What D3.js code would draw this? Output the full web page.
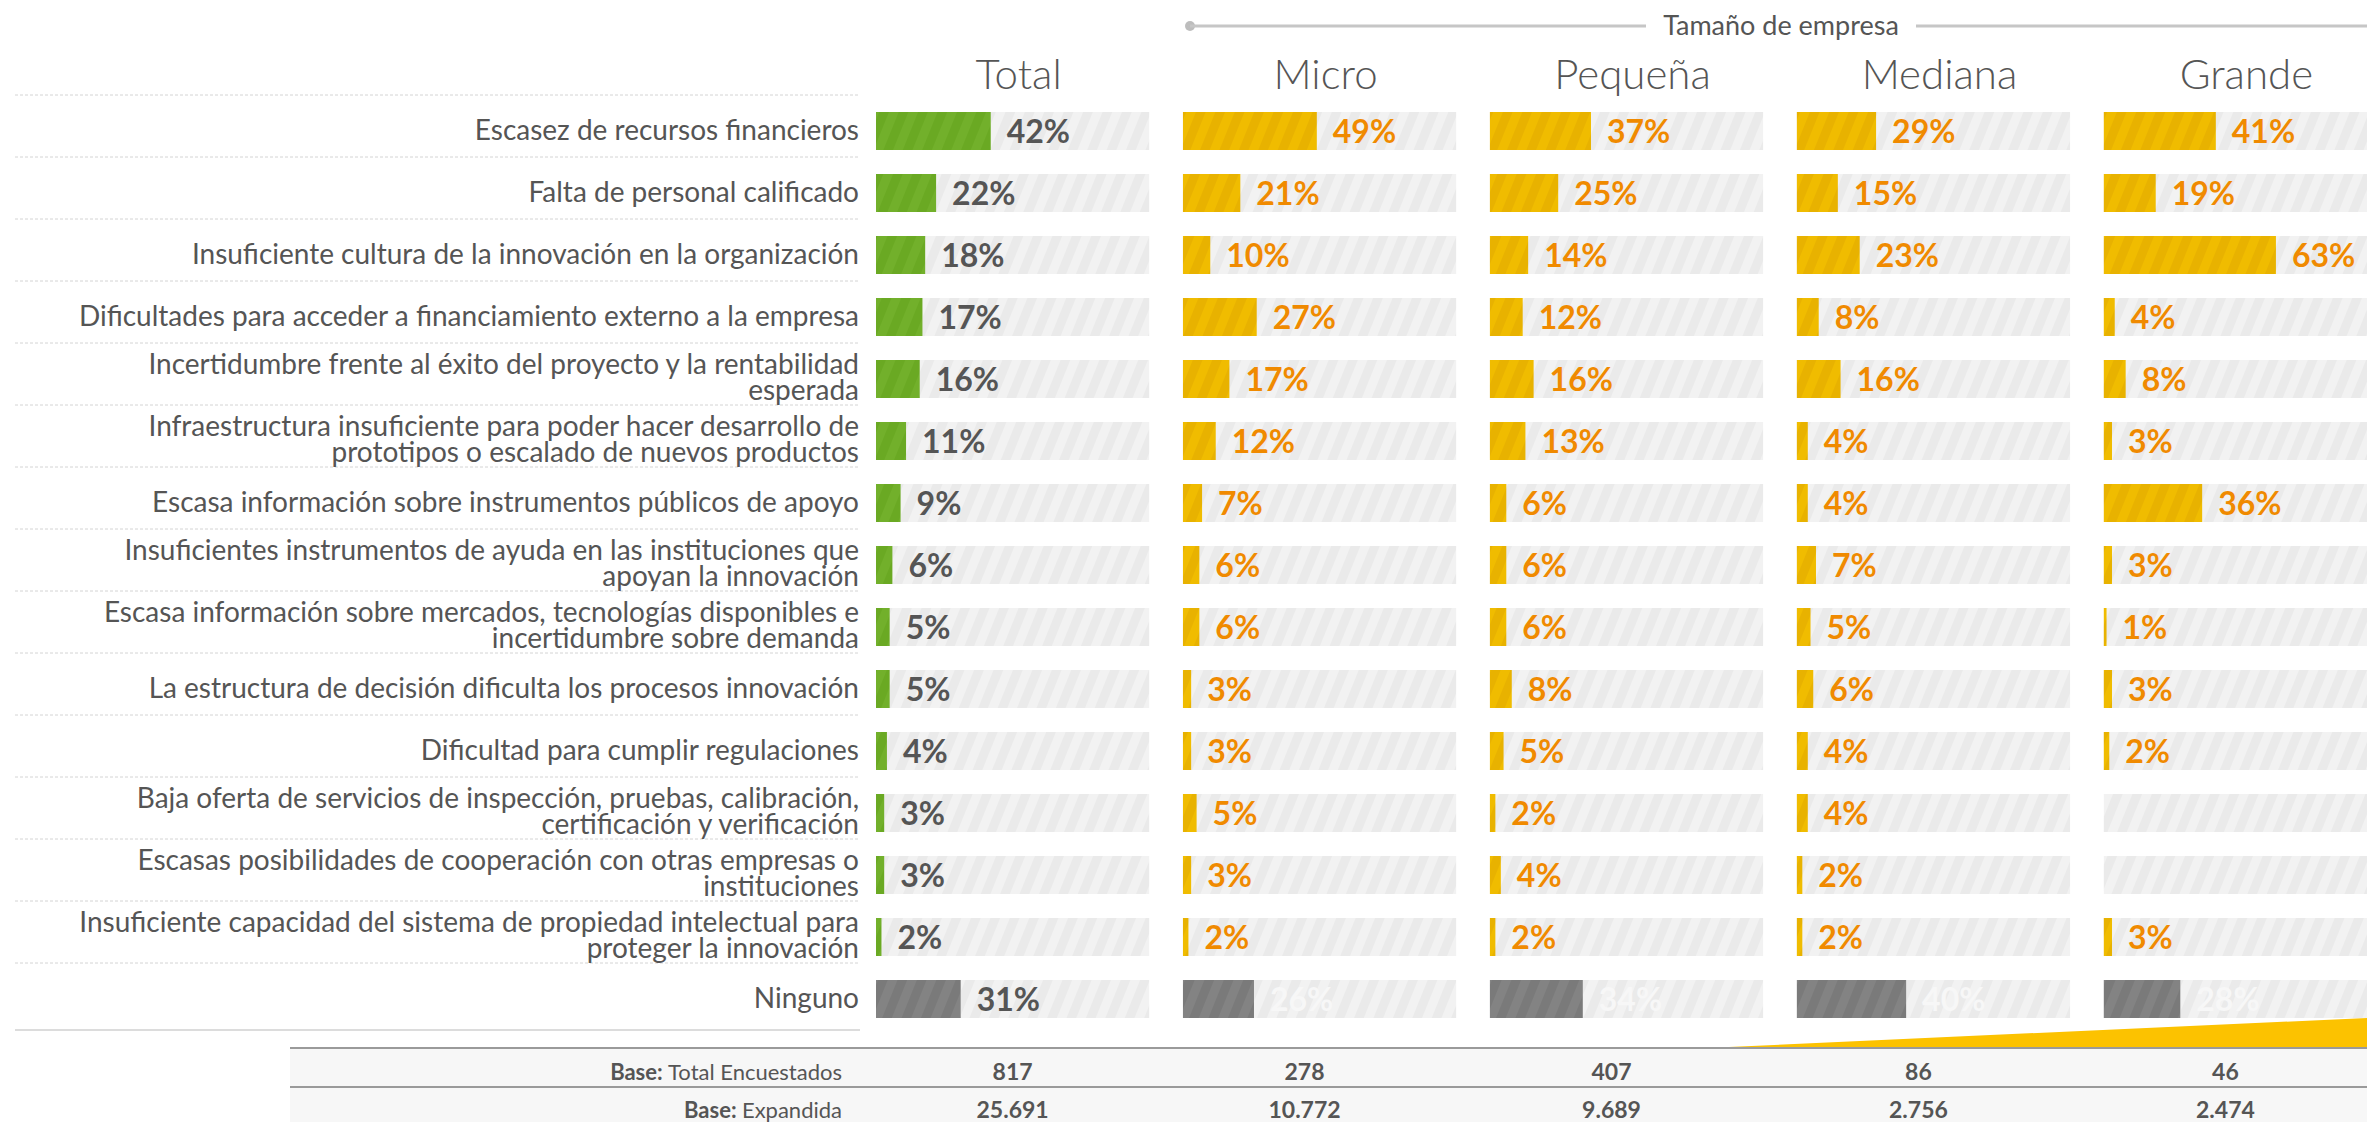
<!DOCTYPE html>
<html>
<head>
<meta charset="utf-8">
<script src="https://cdn.jsdelivr.net/npm/d3@7"></script>
<style>
  body { margin: 0; background: #fff; }
  svg { display: block; font-family: Lato, "Noto Sans", sans-serif; }
</style>
</head>
<body>
<svg></svg>
<script>
const width = 2367;
const height = 1122;

const groups = ['Total', 'Micro', 'Pequeña', 'Mediana', 'Grande'];

const categories = [
  ['Escasez de recursos financieros'],
  ['Falta de personal calificado'],
  ['Insuficiente cultura de la innovación en la organización'],
  ['Dificultades para acceder a financiamiento externo a la empresa'],
  ['Incertidumbre frente al éxito del proyecto y la rentabilidad', 'esperada'],
  ['Infraestructura insuficiente para poder hacer desarrollo de', 'prototipos o escalado de nuevos productos'],
  ['Escasa información sobre instrumentos públicos de apoyo'],
  ['Insuficientes instrumentos de ayuda en las instituciones que', 'apoyan la innovación'],
  ['Escasa información sobre mercados, tecnologías disponibles e', 'incertidumbre sobre demanda'],
  ['La estructura de decisión dificulta los procesos innovación'],
  ['Dificultad para cumplir regulaciones'],
  ['Baja oferta de servicios de inspección, pruebas, calibración,', 'certificación y verificación'],
  ['Escasas posibilidades de cooperación con otras empresas o', 'instituciones'],
  ['Insuficiente capacidad del sistema de propiedad intelectual para', 'proteger la innovación'],
  ['Ninguno']
];

// one array per column, same order as categories
const total   = [42, 22, 18, 17, 16, 11, 9, 6, 5, 5, 4, 3, 3, 2, 31];
const micro   = [49, 21, 10, 27, 17, 12, 7, 6, 6, 3, 3, 5, 3, 2, 26];
const pequena = [37, 25, 14, 12, 16, 13, 6, 6, 6, 8, 5, 2, 4, 2, 34];
const mediana = [29, 15, 23, 8, 16, 4, 4, 7, 5, 6, 4, 4, 2, 2, 40];
const grande  = [41, 19, 63, 4, 8, 3, 36, 3, 1, 3, 2, null, null, 3, 28];

const baseLabels = ['Total Encuestados', 'Expandida'];
const baseTotal = ['817', '278', '407', '86', '46'];
const baseExpand = ['25.691', '10.772', '9.689', '2.756', '2.474'];

const series = [total, micro, pequena, mediana, grande];

const svg = d3.select('svg')
  .attr('width', width)
  .attr('height', height);

// stripe patterns
const defs = svg.append('defs');
const makeStripes = (id, base, stripe) => {
  const p = defs.append('pattern')
    .attr('id', id)
    .attr('patternUnits', 'userSpaceOnUse')
    .attr('width', 18)
    .attr('height', 18)
    .attr('patternTransform', 'rotate(22)');
  p.append('rect').attr('width', 18).attr('height', 18).attr('fill', base);
  p.append('rect').attr('width', 9).attr('height', 18).attr('fill', stripe);
};
makeStripes('trackStripe', '#f2f2f2', '#eaeaea');
makeStripes('greenStripe', '#6aa923', '#72b02b');
makeStripes('yellowStripe', '#f0bc00', '#e8b200');
makeStripes('grayStripe', '#7a7a7a', '#838383');

const groupScale = d3.scaleBand()
  .domain(groups)
  .range([876, 2377])
  .paddingInner(0.11);

const rowScale = d3.scaleBand()
  .domain(d3.range(categories.length))
  .range([100, 1030]);

const xScale = d3.scaleLinear()
  .domain([0, 100])
  .range([0, groupScale.bandwidth()]);

const barH = 38;
const rowCenter = i => rowScale(i) + rowScale.bandwidth() / 2;

// header: Tamaño de empresa
const hy = 26;
svg.append('circle').attr('cx', 1190).attr('cy', hy).attr('r', 5).attr('fill', '#bdbdbd');
svg.append('line').attr('x1', 1190).attr('x2', 1646).attr('y1', hy).attr('y2', hy)
  .attr('stroke', '#c6c6c6').attr('stroke-width', 3);
svg.append('line').attr('x1', 1916).attr('x2', width).attr('y1', hy).attr('y2', hy)
  .attr('stroke', '#c6c6c6').attr('stroke-width', 3);
svg.append('text')
  .attr('x', 1781).attr('y', hy)
  .attr('dy', '0.35em')
  .attr('text-anchor', 'middle')
  .attr('font-size', 27)
  .attr('fill', '#555')
  .text('Tamaño de empresa');

// group headers
svg.selectAll('.group-title')
  .data(groups)
  .join('text')
  .classed('group-title', true)
  .attr('x', d => groupScale(d) + groupScale.bandwidth() / 2 + 6)
  .attr('y', 89)
  .attr('text-anchor', 'middle')
  .attr('font-size', 42)
  .attr('font-weight', 300)
  .attr('fill', '#555')
  .text(d => d);

// separators
svg.selectAll('.sep')
  .data(d3.range(categories.length))
  .join('line')
  .classed('sep', true)
  .attr('x1', 15).attr('x2', 860)
  .attr('y1', d => rowScale(d) - 5).attr('y2', d => rowScale(d) - 5)
  .attr('stroke', '#d4d4d4')
  .attr('stroke-dasharray', '3,2')
  .attr('stroke-width', 1);

svg.append('line')
  .attr('x1', 15).attr('x2', 860)
  .attr('y1', 1030).attr('y2', 1030)
  .attr('stroke', '#dcdcdc')
  .attr('stroke-width', 2);

// category labels
const labels = svg.selectAll('.cat')
  .data(categories)
  .join('text')
  .classed('cat', true)
  .attr('text-anchor', 'end')
  .attr('font-size', 28)
  .attr('fill', '#555');

labels.each(function(lines, i) {
  const t = d3.select(this);
  const cy = rowCenter(i);
  if (lines.length === 1) {
    t.append('tspan').attr('x', 859).attr('y', cy + 9).text(lines[0]);
  } else {
    t.append('tspan').attr('x', 859).attr('y', cy - 5).text(lines[0]);
    t.append('tspan').attr('x', 859).attr('y', cy + 21).text(lines[1]);
  }
});

// bars
const last = categories.length - 1;
groups.forEach((g, gi) => {
  const gx = groupScale(g);
  const vals = series[gi];
  const col = svg.append('g').attr('transform', `translate(${gx},0)`);

  col.selectAll('.track')
    .data(vals)
    .join('rect')
    .classed('track', true)
    .attr('x', 0)
    .attr('y', (d, i) => rowCenter(i) - barH / 2)
    .attr('width', groupScale.bandwidth())
    .attr('height', barH)
    .attr('fill', 'url(#trackStripe)');

  col.selectAll('.bar')
    .data(vals.map((v, i) => ({ v, i })).filter(d => d.v !== null))
    .join('rect')
    .classed('bar', true)
    .attr('x', 0)
    .attr('y', d => rowCenter(d.i) - barH / 2)
    .attr('width', d => xScale(d.v))
    .attr('height', barH)
    .attr('fill', d => d.i === last ? 'url(#grayStripe)'
      : gi === 0 ? 'url(#greenStripe)' : 'url(#yellowStripe)');

  col.selectAll('.val')
    .data(vals.map((v, i) => ({ v, i })).filter(d => d.v !== null))
    .join('text')
    .classed('val', true)
    .attr('x', d => xScale(d.v) + 16)
    .attr('y', d => rowCenter(d.i))
    .attr('dy', '0.36em')
    .attr('font-size', 32)
    .attr('font-weight', 'bold')
    .attr('fill', d => d.i === last ? (gi === 0 ? '#555' : '#f7f7f7')
      : gi === 0 ? '#555' : '#f08a00')
    .text(d => d.v + '%');
});

// yellow wedge
svg.append('path')
  .attr('d', `M1706,1048 L${width},1018 L${width},1048 Z`)
  .attr('fill', '#fcc200');

// base table
svg.append('rect')
  .attr('x', 290).attr('y', 1048)
  .attr('width', width - 290).attr('height', height - 1048)
  .attr('fill', '#f7f7f7');
[1048, 1087].forEach(y => {
  svg.append('line')
    .attr('x1', 290).attr('x2', width)
    .attr('y1', y).attr('y2', y)
    .attr('stroke', '#9a9a9a')
    .attr('stroke-width', 2);
});

const tableRows = [
  { label: baseLabels[0], vals: baseTotal, y: 1072 },
  { label: baseLabels[1], vals: baseExpand, y: 1110 }
];

tableRows.forEach(r => {
  const t = svg.append('text')
    .attr('x', 842).attr('y', r.y)
    .attr('dy', '0.35em')
    .attr('text-anchor', 'end')
    .attr('font-size', 22)
    .attr('fill', '#555');
  t.append('tspan').attr('font-weight', 'bold').text('Base: ');
  t.append('tspan').text(r.label);

  svg.selectAll(null)
    .data(r.vals)
    .join('text')
    .attr('x', (d, i) => groupScale(groups[i]) + groupScale.bandwidth() / 2 - (i === 0 ? 0 : 15))
    .attr('y', r.y)
    .attr('dy', '0.35em')
    .attr('text-anchor', 'middle')
    .attr('font-size', 23)
    .attr('font-weight', 'bold')
    .attr('fill', '#555')
    .text(d => d);
});
</script>
</body>
</html>
